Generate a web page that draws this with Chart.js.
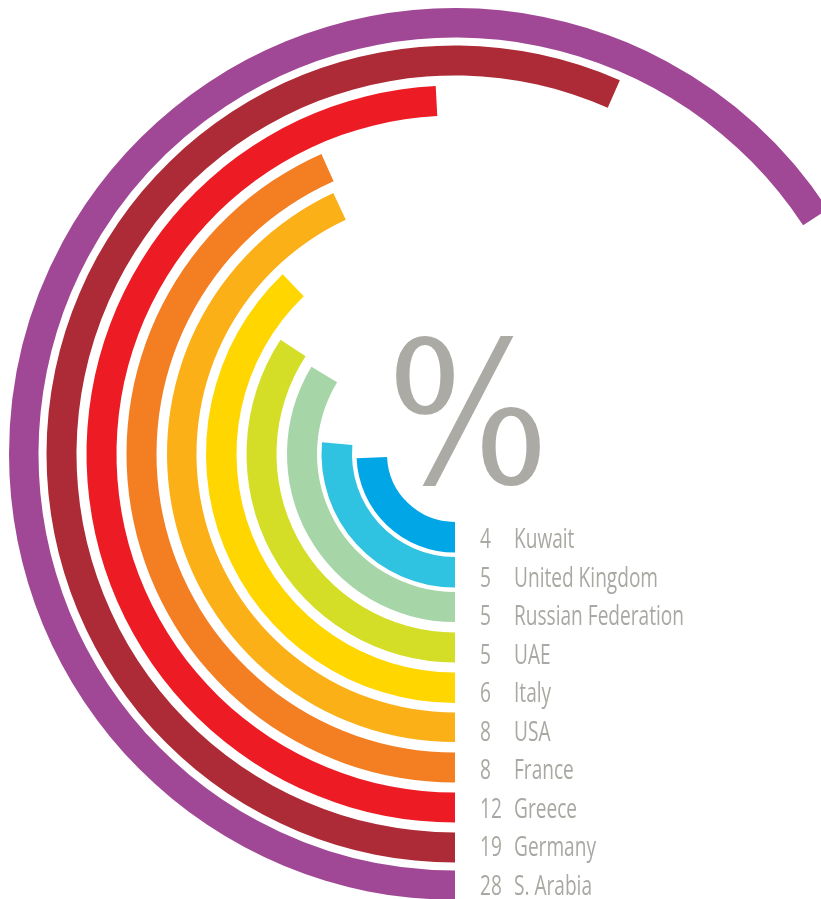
<!DOCTYPE html>
<html>
<head>
<meta charset="utf-8">
<script src="https://cdn.jsdelivr.net/npm/chart.js@4.4.1/dist/chart.umd.min.js"></script>
<style>
  html, body { margin: 0; padding: 0; background: #fff; overflow: hidden; width: 821px; height: 899px; }
  #wrap { position: absolute; left: 9px; top: 8px; width: 892px; height: 892px; }
</style>
</head>
<body>
<div id="wrap"><canvas id="chart" width="892" height="892"></canvas></div>
<script>
// listed from the inner ring out
const countries = ['Kuwait', 'United Kingdom', 'Russian Federation', 'UAE', 'Italy', 'USA', 'France', 'Greece', 'Germany', 'S. Arabia'];
const percents = [4, 5, 5, 5, 6, 8, 8, 12, 19, 28];
// how far each arc runs round from 6 o'clock (degrees, as drawn in the picture)
const arcDegrees = [87.5, 95, 121.3, 123.2, 136.2, 155, 156, 177, 203.8, 236.7];

const colors = ['#00a6e6', '#2fc3e1', '#a6d5a7', '#d5de27', '#ffd600', '#fcb017', '#f47e22', '#ed1c24', '#ad2b36', '#a04895'];
// ring edges, px from the centre: [inner, outer]
const bands = [[68, 98.5], [103, 133.5], [138, 168], [178.5, 208.5], [218.5, 249], [258.5, 288], [298.5, 328.5], [338.5, 368.5], [378.5, 408.5], [416.5, 446]];
const OFFX = 9, OFFY = 8;   // where the canvas sits on the page
const textGrey = '#a9a8a3';
const clear = 'rgba(0,0,0,0)';

// chart.js puts dataset 0 on the outside, so go outer -> inner
const datasets = [];
for (let i = bands.length - 1; i >= 0; i--) {
    datasets.push({
        label: countries[i],
        data: [arcDegrees[i], 360 - arcDegrees[i]],
        backgroundColor: [colors[i], clear],
        weight: bands[i][1] - bands[i][0]
    });
    if (i > 0) {
        // white gap between rings
        datasets.push({ data: [1], backgroundColor: [clear], weight: bands[i][0] - bands[i - 1][1] });
    }
}

function squished(ctx, txt, x, y, sx, sy) {
    ctx.save();
    ctx.translate(x, y);
    ctx.scale(sx, sy || 1);
    ctx.fillText(txt, 0, 0);
    ctx.restore();
}

const labelPlugin = {
    id: 'labels',
    afterDraw(chart) {
        const ctx = chart.ctx;
        ctx.save();
        ctx.fillStyle = textGrey;
        ctx.textBaseline = 'alphabetic';
        ctx.textAlign = 'left';
        ctx.font = '27px "Open Sans"';
        const sx = 170 / ctx.measureText('Russian Federation').width;
        for (let i = 0; i < countries.length; i++) {
            const y = 548.3 + i * 38.52 - OFFY;
            squished(ctx, String(percents[i]), 480 - OFFX, y, sx);
            squished(ctx, countries[i], 514 - OFFX, y, sx);
        }
        ctx.font = '190px "DejaVu Serif"';
        ctx.fillStyle = '#abaaa5';
        ctx.textAlign = 'center';
        squished(ctx, '%', 468 - OFFX, 483 - OFFY, 0.9, 1.05);
        ctx.restore();
    }
};

const ctx = document.getElementById('chart').getContext('2d');
const myChart = new Chart(ctx, {
    type: 'doughnut',
    data: { labels: ['value', 'rest'], datasets: datasets },
    options: {
        responsive: false,
        animation: false,
        rotation: 180,
        circumference: 360,
        cutout: 68,
        spacing: 0,
        layout: { padding: 0 },
        elements: { arc: { borderWidth: 0, hoverBorderWidth: 0, offset: 0, hoverOffset: 0 } },
        plugins: { legend: { display: false }, tooltip: { enabled: false } }
    },
    plugins: [labelPlugin]
});
</script>
</body>
</html>
